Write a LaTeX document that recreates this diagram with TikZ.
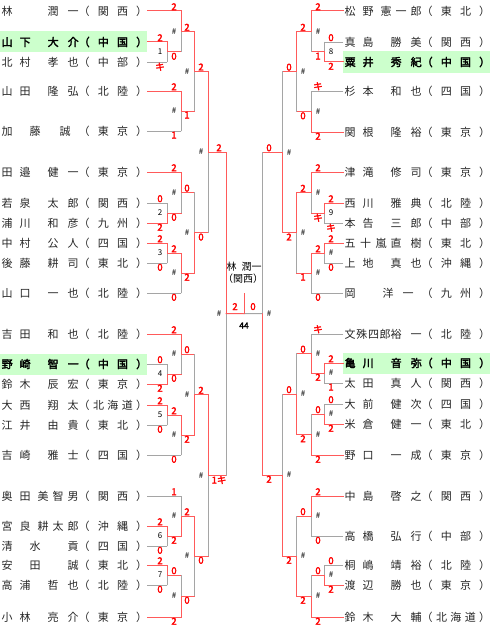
\documentclass[tikz,border=0pt]{standalone}
\usepackage{fontspec}
\newfontfamily\jp{Noto Sans CJK JP}[AutoFakeBold=2.5]
\usetikzlibrary{calc}

\definecolor{winred}{RGB}{255,90,90}
\definecolor{losegray}{RGB}{165,165,165}
\definecolor{hlgreen}{RGB}{204,255,204}

% spread the characters of a string over its box
\def\spre{}
\def\spr#1{\sprA#1\spre}
\def\sprA#1{\ifx#1\spre\else#1\expandafter\sprB\fi}
\def\sprB#1{\ifx#1\spre\else\hfill#1\expandafter\sprB\fi}

% [family width][given width][gap after given]{family}{given}{region}
\NewDocumentCommand\pn{O{29} O{31} O{0} m m m}{%
  \hspace*{1.5pt}\makebox[77pt][l]{\makebox[#1pt][s]{\spr{#4}}\hfill\makebox[#2pt][s]{\spr{#5}}\hspace*{#3pt}}%
  \makebox[68.5pt][s]{（\hfill\spr{#6}\hfill ）}}

% {top}{bottom}{vertical}{out}{top line}{bottom line}{t|b winner}{top score}{bottom score}
\newcommand\bout[9]{%
  \coordinate (#4) at ($(#1 -| #3)!0.5!(#2 -| #3)$);
  \draw[#5] (#1) -- (#1 -| #3);
  \draw[#6] (#2) -- (#2 -| #3);
  \if t#7
    \draw[wline] (#1 -| #3) -- (#4);
    \draw[lline] (#4) -- (#2 -| #3);
  \else
    \draw[lline] (#1 -| #3) -- (#4);
    \draw[wline] (#4) -- (#2 -| #3);
  \fi
  \path (#1 -| #3) ++(\xs,0) node[score, above] (#4-t) {#8};
  \path (#2 -| #3) ++(\xs,0) node[score, below] (#4-b) {#9};
}
\newcommand\mno[2]{\path (#1) ++(\xs,0) node[mnum] (#1-n) {#2};}

\begin{document}
\begin{tikzpicture}[
  x=1pt, y=-1pt,
  wline/.style={draw=winred, line width=1pt, line cap=rect},
  lline/.style={draw=losegray, line width=0.9pt, line cap=rect},
  pname/.style={anchor=west, inner sep=0pt, text=black!85, font=\jp\fontsize{11}{11}\selectfont},
  hl/.style={fill=hlgreen, minimum height=21pt, text=black, font=\jp\bfseries\fontsize{11}{11}\selectfont},
  score/.style={inner sep=0.6pt, text=red, font=\jp\bfseries\fontsize{9.5}{9.5}\selectfont},
  mnum/.style={inner sep=0pt, font=\jp\fontsize{8}{8}\selectfont},
  champ/.style={inner sep=0pt, font=\jp\fontsize{10}{10}\selectfont}
]
  \useasboundingbox (0,0) rectangle (490,626);

  \coordinate (L1) at (167,0);
  \coordinate (L2) at (181,0);
  \coordinate (L3) at (194,0);
  \coordinate (L4) at (208,0);
  \coordinate (L5) at (226,0);
  \coordinate (R1) at (324,0);
  \coordinate (R2) at (311,0);
  \coordinate (R3) at (296,0);
  \coordinate (R4) at (282,0);
  \coordinate (R5) at (262,0);

  \node[pname] (l1) at (0,11) {\pn[11]{林}{潤一}{関西}};
  \node[pname, hl] (l2) at (0,42) {\pn{山下}{大介}{中国}};
  \node[pname] (l3) at (0,62) {\pn{北村}{孝也}{中部}};
  \node[pname] (l4) at (0,91) {\pn{山田}{隆弘}{北陸}};
  \node[pname] (l5) at (0,131) {\pn[39][19]{加藤}{誠}{東京}};
  \node[pname] (l6) at (0,172) {\pn{田邉}{健一}{東京}};
  \node[pname] (l7) at (0,203) {\pn{若泉}{太郎}{関西}};
  \node[pname] (l8) at (0,223) {\pn{浦川}{和彦}{九州}};
  \node[pname] (l9) at (0,243) {\pn{中村}{公人}{四国}};
  \node[pname] (l10) at (0,263) {\pn{後藤}{耕司}{東北}};
  \node[pname] (l11) at (0,293) {\pn{山口}{一也}{北陸}};
  \node[pname] (l12) at (0,334) {\pn{吉田}{和也}{北陸}};
  \node[pname, hl] (l13) at (0,364) {\pn{野崎}{智一}{中国}};
  \node[pname] (l14) at (0,384) {\pn{鈴木}{辰宏}{東京}};
  \node[pname] (l15) at (0,405) {\pn{大西}{翔太}{北海道}};
  \node[pname] (l16) at (0,425) {\pn{江井}{由貴}{東北}};
  \node[pname] (l17) at (0,455) {\pn{吉崎}{雅士}{四国}};
  \node[pname] (l18) at (0,496) {\pn[29][41]{奥田}{美智男}{関西}};
  \node[pname] (l19) at (0,526) {\pn[29][41]{宮良}{耕太郎}{沖縄}};
  \node[pname] (l20) at (0,546) {\pn[39][11]{清水}{貢}{四国}};
  \node[pname] (l21) at (0,565) {\pn[39][11]{安田}{誠}{東北}};
  \node[pname] (l22) at (0,585) {\pn{高浦}{哲也}{北陸}};
  \node[pname] (l23) at (0,617) {\pn{小林}{亮介}{東京}};

  \node[pname] (r1) at (343,11) {\pn[29][41]{松野}{憲一郎}{東北}};
  \node[pname] (r2) at (343,42) {\pn{真島}{勝美}{関西}};
  \node[pname, hl] (r3) at (343,62) {\pn{粟井}{秀紀}{中国}};
  \node[pname] (r4) at (343,91) {\pn{杉本}{和也}{四国}};
  \node[pname] (r5) at (343,132) {\pn{関根}{隆裕}{東京}};
  \node[pname] (r6) at (343,172) {\pn{津滝}{修司}{東京}};
  \node[pname] (r7) at (343,203) {\pn{西川}{雅典}{北陸}};
  \node[pname] (r8) at (343,223) {\pn{本告}{三郎}{中部}};
  \node[pname] (r9) at (343,243) {\pn[42]{五十嵐}{直樹}{東北}};
  \node[pname] (r10) at (343,263) {\pn{上地}{真也}{沖縄}};
  \node[pname] (r11) at (343,293) {\pn[11][31][8]{岡}{洋一}{九州}};
  \node[pname] (r12) at (343,334) {\pn[46]{文殊四郎}{裕一}{北陸}};
  \node[pname, hl] (r13) at (343,363) {\pn{亀川}{音弥}{中国}};
  \node[pname] (r14) at (343,383) {\pn{太田}{真人}{関西}};
  \node[pname] (r15) at (343,404) {\pn{大前}{健次}{四国}};
  \node[pname] (r16) at (343,424) {\pn{米倉}{健一}{東北}};
  \node[pname] (r17) at (343,455) {\pn{野口}{一成}{東京}};
  \node[pname] (r18) at (343,496) {\pn{中島}{啓之}{関西}};
  \node[pname] (r19) at (343,536) {\pn{高橋}{弘行}{中部}};
  \node[pname] (r20) at (343,565) {\pn{桐嶋}{靖裕}{北陸}};
  \node[pname] (r21) at (343,585) {\pn{渡辺}{勝也}{東京}};
  \node[pname] (r22) at (343,617) {\pn{鈴木}{大輔}{北海道}};

  \def\xs{-7}
  \bout{l2}{l3}{L1}{m1}{wline}{lline}{t}{2}{キ}    \mno{m1}{1}
  \bout{l1}{m1}{L2}{a1}{wline}{wline}{t}{2}{0}     \mno{a1}{\#}
  \bout{l4}{l5}{L2}{a2}{wline}{lline}{t}{2}{1}     \mno{a2}{\#}
  \bout{a1}{a2}{L3}{a3}{wline}{wline}{t}{2}{1}     \mno{a3}{\#}
  \bout{l7}{l8}{L1}{m2}{lline}{wline}{b}{0}{2}     \mno{m2}{2}
  \bout{l6}{m2}{L2}{b1}{wline}{wline}{t}{2}{0}     \mno{b1}{\#}
  \bout{l9}{l10}{L1}{m3}{wline}{lline}{t}{2}{0}    \mno{m3}{3}
  \bout{m3}{l11}{L2}{b2}{wline}{lline}{t}{2}{0}    \mno{b2}{\#}
  \bout{b1}{b2}{L3}{b3}{wline}{wline}{b}{0}{2}     \mno{b3}{\#}
  \bout{a3}{b3}{L4}{ab}{wline}{wline}{t}{2}{0}     \mno{ab}{\#}
  \bout{l13}{l14}{L1}{m4}{lline}{wline}{b}{0}{2}   \mno{m4}{4}
  \bout{l12}{m4}{L2}{c1}{wline}{wline}{t}{2}{0}    \mno{c1}{\#}
  \bout{l15}{l16}{L1}{m5}{wline}{lline}{t}{2}{0}   \mno{m5}{5}
  \bout{m5}{l17}{L2}{c2}{wline}{lline}{t}{2}{0}    \mno{c2}{\#}
  \bout{c1}{c2}{L3}{c3}{wline}{wline}{b}{0}{2}     \mno{c3}{\#}
  \bout{l19}{l20}{L1}{m6}{wline}{lline}{t}{2}{0}   \mno{m6}{6}
  \bout{l18}{m6}{L2}{d1}{lline}{wline}{b}{1}{2}    \mno{d1}{\#}
  \bout{l21}{l22}{L1}{m7}{wline}{lline}{t}{2}{0}   \mno{m7}{7}
  \bout{m7}{l23}{L2}{d2}{wline}{wline}{b}{0}{2}    \mno{d2}{\#}
  \bout{d1}{d2}{L3}{d3}{wline}{wline}{t}{2}{0}     \mno{d3}{\#}
  \bout{c3}{d3}{L4}{cd}{wline}{wline}{t}{2}{0}     \mno{cd}{\#}
  \bout{ab}{cd}{L5}{sl}{wline}{wline}{t}{2}{1キ}   \mno{sl}{\#}

  \def\xs{7}
  \bout{r2}{r3}{R1}{m8}{lline}{wline}{b}{0}{2}     \mno{m8}{8}
  \bout{r1}{m8}{R2}{e1}{wline}{wline}{t}{2}{1}     \mno{e1}{\#}
  \bout{r4}{r5}{R2}{e2}{lline}{wline}{b}{キ}{2}    \mno{e2}{\#}
  \bout{e1}{e2}{R3}{e3}{wline}{wline}{t}{2}{0}     \mno{e3}{\#}
  \bout{r7}{r8}{R1}{m9}{wline}{lline}{t}{2}{キ}    \mno{m9}{9}
  \bout{r6}{m9}{R2}{f1}{wline}{wline}{t}{2}{キ}    \mno{f1}{\#}
  \bout{r9}{r10}{R1}{f2}{wline}{lline}{t}{2}{0}    \mno{f2}{\#}
  \bout{f2}{r11}{R2}{f3}{wline}{lline}{t}{2}{0}    \mno{f3}{\#}
  \bout{f1}{f3}{R3}{f4}{wline}{wline}{t}{2}{1}     \mno{f4}{\#}
  \bout{e3}{f4}{R4}{ef}{wline}{wline}{b}{0}{2}     \mno{ef}{\#}
  \bout{r13}{r14}{R1}{g1}{wline}{lline}{t}{2}{1}   \mno{g1}{\#}
  \bout{r12}{g1}{R2}{g2}{lline}{wline}{b}{キ}{2}   \mno{g2}{\#}
  \bout{r15}{r16}{R1}{g3}{lline}{wline}{b}{0}{2}   \mno{g3}{\#}
  \bout{g3}{r17}{R2}{g4}{wline}{wline}{b}{0}{2}    \mno{g4}{\#}
  \bout{g2}{g4}{R3}{g5}{wline}{wline}{b}{0}{2}     \mno{g5}{\#}
  \bout{r18}{r19}{R2}{h1}{wline}{lline}{t}{2}{0}   \mno{h1}{\#}
  \bout{r20}{r21}{R1}{h2}{lline}{wline}{b}{0}{2}   \mno{h2}{\#}
  \bout{h2}{r22}{R2}{h3}{wline}{wline}{b}{0}{2}    \mno{h3}{\#}
  \bout{h1}{h3}{R3}{h4}{wline}{wline}{b}{0}{2}     \mno{h4}{\#}
  \bout{g5}{h4}{R4}{gh}{wline}{wline}{b}{0}{2}     \mno{gh}{\#}
  \bout{ef}{gh}{R5}{sr}{wline}{wline}{b}{0}{2}     \mno{sr}{\#}

  \coordinate (fc) at ($(sl)!0.5!(sr)$);
  \coordinate (ftop) at ($(fc)+(0,-20)$);
  \draw[wline] (sl) -- (fc);
  \draw[lline] (fc) -- (sr);
  \draw[wline] (fc) -- (ftop);
  \node[score] (fsl) at ($(fc)+(-9,-7)$) {2};
  \node[score] (fsr) at ($(fc)+(9,-7)$) {0};
  \node[mnum, font=\jp\bfseries\fontsize{8.5}{8.5}\selectfont] (fno) at ($(fc)+(0,12)$) {44};
  \node[champ] (champ) at (244,267) {林\hspace{5pt}潤一};
  \node[champ] (champr) at (243,279) {（関西）};
\end{tikzpicture}
\end{document}
